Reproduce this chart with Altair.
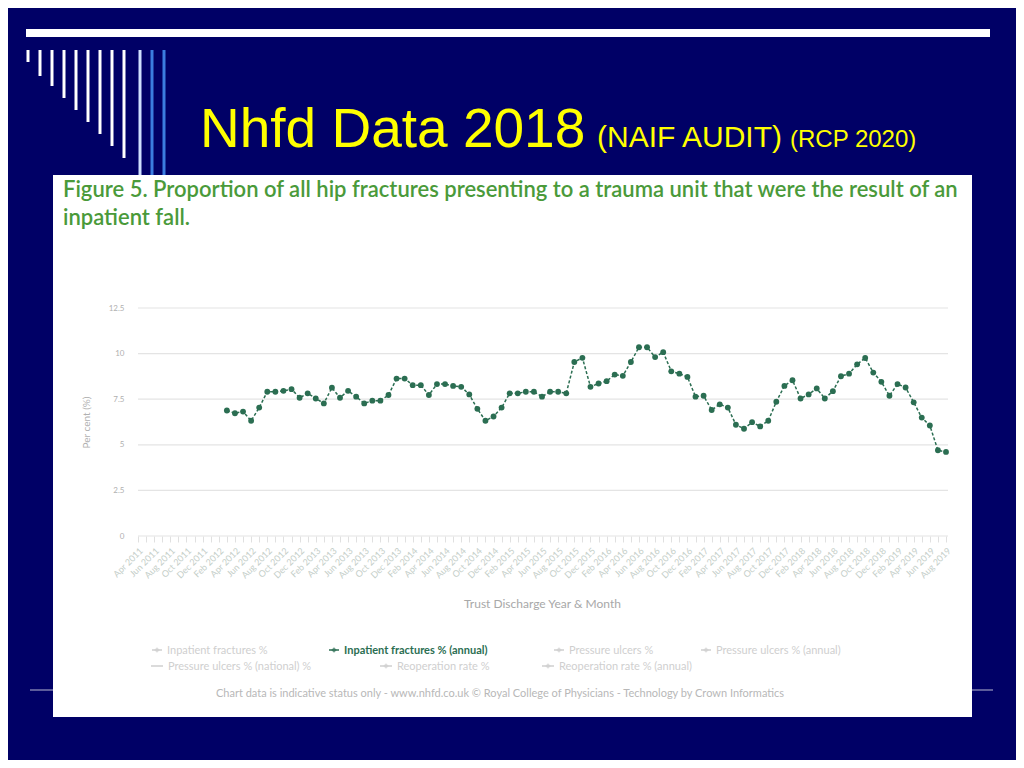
import altair as alt
import pandas as pd

# ---------------- data ----------------
month_names = ["Jan", "Feb", "Mar", "Apr", "May", "Jun", "Jul", "Aug", "Sep", "Oct", "Nov", "Dec"]
axis_months = [f"{month_names[(3 + i) % 12]} {2011 + (3 + i) // 12}" for i in range(101)]  # Apr 2011 .. Aug 2019
shown_labels = ["Apr", "Jun", "Aug", "Oct", "Dec", "Feb"]

annual_values = [
    6.88, 6.73, 6.82, 6.32, 7.04, 7.91, 7.91, 7.96, 8.05, 7.58,   # Mar 2012 - Dec 2012
    7.82, 7.54, 7.27, 8.13, 7.58, 7.96, 7.64, 7.27, 7.42, 7.42, 7.73, 8.63,  # 2013
    8.63, 8.27, 8.27, 7.73, 8.33, 8.33, 8.23, 8.18, 7.76, 6.97, 6.32, 6.55,  # 2014
    7.04, 7.82, 7.82, 7.91, 7.91, 7.64, 7.91, 7.91, 7.82, 9.54, 9.77, 8.18,  # 2015
    8.36, 8.49, 8.85, 8.78, 9.54, 10.35, 10.35, 9.81, 10.08, 9.03, 8.90, 8.72,  # 2016
    7.64, 7.69, 6.91, 7.22, 7.04, 6.10, 5.88, 6.24, 6.01, 6.32, 7.36, 8.23,  # 2017
    8.54, 7.54, 7.76, 8.09, 7.54, 7.94, 8.76, 8.90, 9.41, 9.76, 8.96, 8.45,  # 2018
    7.69, 8.33, 8.14, 7.33, 6.49, 6.06, 4.70, 4.61,  # 2019
]
data_months = axis_months[11:]
y_ticks = [0, 2.5, 5, 7.5, 10, 12.5]

legend_row1 = ["Inpatient fractures %", "Inpatient fractures % (annual)", "Pressure ulcers %", "Pressure ulcers % (annual)"]
legend_row2 = ["Pressure ulcers % (national) %", "Reoperation rate %", "Reoperation rate % (annual)"]

slide_title = "Nhfd Data 2018"
slide_sub1 = "(NAIF AUDIT)"
slide_sub2 = "(RCP 2020)"
fig_title1 = "Figure 5. Proportion of all hip fractures presenting to a trauma unit that were the result of an"
fig_title2 = "inpatient fall."
footer = "Chart data is indicative status only - www.nhfd.co.uk \u00a9 Royal College of Physicians - Technology by Crown Informatics"

df = pd.DataFrame({"month": data_months, "value": annual_values})
grid_df = pd.DataFrame({"tick": y_ticks})

# ---------------- layout helpers ----------------
PLOT_W, PLOT_H = 808, 228
OX, OY = 138, 308  # page coordinates of plot origin
NAVY = "#000066"
GREEN = "#2b6e52"
one = alt.Data(values=[{}])


def px(x):
    return x - OX


def py(y):
    return y - OY


def rect(x1, y1, x2, y2, color):
    return alt.Chart(one).mark_rect(color=color).encode(
        x=alt.value(px(x1)), x2=alt.value(px(x2)), y=alt.value(py(y1)), y2=alt.value(py(y2)))


def vline(x, y1, y2, color, w):
    return alt.Chart(one).mark_rule(color=color, strokeWidth=w).encode(
        x=alt.value(px(x)), y=alt.value(py(y1)), y2=alt.value(py(y2)))


def hline(x1, x2, y, color, w):
    return alt.Chart(one).mark_rule(color=color, strokeWidth=w).encode(
        x=alt.value(px(x1)), x2=alt.value(px(x2)), y=alt.value(py(y)))


def text(s, x, y, size, color, font="Lato", weight="normal", align="left", baseline="alphabetic"):
    return alt.Chart(one).mark_text(font=font, fontSize=size, color=color, fontWeight=weight,
                                    align=align, baseline=baseline).encode(
        x=alt.value(px(x)), y=alt.value(py(y)), text=alt.value(s))


layers = []
# slide decoration
layers.append(rect(26, 29, 990, 37, "#ffffff"))
stripe_x = [28, 40, 52, 64, 76, 88, 100, 112, 124]
stripe_bottom = [62, 76, 86, 98, 110, 122, 134, 146, 158]
for sx, sb in zip(stripe_x, stripe_bottom):
    layers.append(vline(sx, 50, sb, "#ffffff", 3))
layers.append(vline(140, 50, 175, "#cfe0ff", 3))
layers.append(vline(152, 50, 175, "#3b7de0", 3))
layers.append(vline(164, 50, 175, "#3b7de0", 3))
layers.append(hline(30, 993, 690, "#b8b8d0", 1))

# slide title
layers.append(text(slide_title, 200, 147, 55, "#ffff00", font="Liberation Sans"))
layers.append(text(slide_sub1, 597, 147, 30, "#ffff00", font="Liberation Sans"))
layers.append(text(slide_sub2, 790, 147, 24, "#ffff00", font="Liberation Sans"))

# white panel (the figure)
layers.append(rect(53, 175, 972, 717, "#ffffff"))
layers.append(text(fig_title1, 63, 197, 22, "#4a9a3a", weight=600))
layers.append(text(fig_title2, 63, 225, 22, "#4a9a3a", weight=600))

# gridlines
grid = alt.Chart(grid_df).mark_rule(color="#e4e4e4", strokeWidth=1.2).encode(
    y=alt.Y("tick:Q", scale=alt.Scale(domain=[0, 12.5], nice=False)),
    x=alt.value(0), x2=alt.value(PLOT_W + 2))
layers.append(grid)

x_enc = alt.X(
    "month:O",
    scale=alt.Scale(domain=axis_months, type="point", padding=0),
    sort=axis_months,
    axis=alt.Axis(
        title="Trust Discharge Year & Month",
        titleFont="Lato", titleFontSize=12, titleColor="#a8a8a8", titleFontWeight="normal",
        titlePadding=19,
        labelAngle=-45, labelFont="Lato", labelFontSize=9, labelColor="#c4cec8",
        labelOverlap=False, labelPadding=4,
        labelExpr="indexof(" + str(shown_labels) + ", slice(datum.value, 0, 3)) >= 0 ? datum.value : ''",
        tickColor="#e0e0e0", tickSize=6, domain=False, grid=False, zindex=1,
    ),
)
y_enc = alt.Y(
    "value:Q",
    scale=alt.Scale(domain=[0, 12.5], nice=False),
    axis=alt.Axis(
        values=y_ticks, format=".1~f", title="Per cent (%)",
        titleFont="Lato", titleFontSize=10, titleColor="#b0b0b0", titleFontWeight="normal",
        titlePadding=17,
        labelFont="Lato", labelFontSize=8, labelColor="#b0b0b0", labelPadding=14,
        ticks=False, domain=False, grid=False, zindex=1,
    ),
)

base = alt.Chart(df).encode(x=x_enc, y=y_enc)
line = base.mark_line(color=GREEN, strokeWidth=1.5, strokeDash=[3, 2])
pts = base.mark_point(color=GREEN, filled=True, size=34, opacity=1)
layers += [line, pts]

# legend (static, as in the original image)
faded = "#cfcfcf"
row1_x = [157, 334, 559, 706]
for name, lx in zip(legend_row1, row1_x):
    is_main = "annual" in name and "Inpatient" in name
    col = GREEN if is_main else faded
    layers.append(hline(lx - 5, lx + 5, 650, col, 1.5))
    layers.append(alt.Chart(one).mark_point(shape="diamond", filled=True, color=col, size=30).encode(
        x=alt.value(px(lx)), y=alt.value(py(650))))
    layers.append(text(name, lx + 10, 654, 11, col, weight="bold" if is_main else "normal"))
row2_x = [157, 386, 548]
for i, (name, lx) in enumerate(zip(legend_row2, row2_x)):
    layers.append(hline(lx - 6, lx + 6, 666, faded, 1.5))
    if i > 0:
        layers.append(alt.Chart(one).mark_point(shape="diamond", filled=True, color=faded, size=30).encode(
            x=alt.value(px(lx)), y=alt.value(py(666))))
    layers.append(text(name, lx + 11, 670, 11, faded))

layers.append(text(footer, 500, 697, 11, "#b8b8b8", align="center"))

chart = alt.layer(*layers).properties(
    width=PLOT_W, height=PLOT_H,
    padding={"left": OX - 8, "top": OY - 8, "right": 1008 - (OX - 8) - PLOT_W, "bottom": 752 - (OY - 8) - PLOT_H},
    autosize=alt.AutoSizeParams(type="none"),
    background=NAVY,
).configure_view(stroke=None)

chart.save("out.html", embed_options={"renderer": "svg", "actions": False})
